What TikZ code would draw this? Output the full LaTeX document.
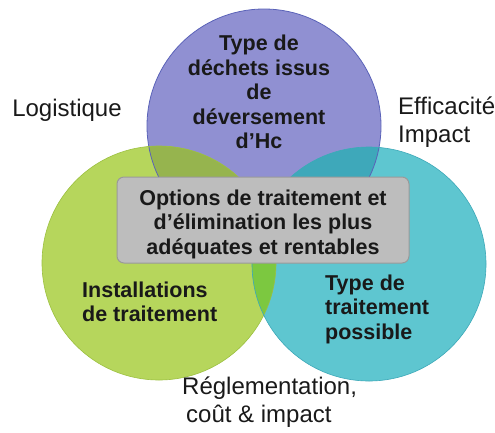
\documentclass[tikz,border=0pt]{standalone}
\usepackage{fontspec}
\setmainfont{Liberation Sans}
\definecolor{cTop}{HTML}{9090D2}
\definecolor{cLeft}{HTML}{B6D65C}
\definecolor{cRight}{HTML}{5EC6D0}
\definecolor{cTL}{HTML}{96B44E}
\definecolor{cTR}{HTML}{3EA8BA}
\definecolor{cLR}{HTML}{7CC840}
\definecolor{cTLR}{HTML}{6AA048}
\definecolor{bTop}{HTML}{5A62B8}
\definecolor{bLeft}{HTML}{9CC040}
\definecolor{bRight}{HTML}{3CA8B8}
\definecolor{boxfill}{HTML}{BDBDBD}
\definecolor{boxline}{HTML}{9A9A9A}
\begin{document}
\begin{tikzpicture}[x=1pt,y=-1pt,
  bold/.style={font=\fontsize{21.5}{24.5}\selectfont\bfseries, inner sep=0pt, text=black!90},
  plain/.style={font=\fontsize{24}{27.5}\selectfont, inner sep=0pt, text=black!90}]
\useasboundingbox (0,0) rectangle (495,432);
\coordinate (ct) at (264,126);
\coordinate (cl) at (159,263);
\coordinate (cr) at (369,264);
% base circles
\fill[cTop] (ct) circle (117pt);
\fill[cLeft] (cl) circle (117pt);
\fill[cRight] (cr) circle (117pt);
% overlaps
\begin{scope}\clip (ct) circle (117pt); \fill[cTL] (cl) circle (117pt); \end{scope}
\begin{scope}\clip (ct) circle (117pt); \fill[cTR] (cr) circle (117pt); \end{scope}
\begin{scope}\clip (cl) circle (117pt); \fill[cLR] (cr) circle (117pt); \end{scope}
\begin{scope}\clip (ct) circle (117pt); \clip (cl) circle (117pt); \fill[cTLR] (cr) circle (117pt); \end{scope}
% borders
\draw[bTop, line width=0.8pt] (ct) circle (117pt);
\draw[bLeft, line width=0.6pt] (cl) circle (117pt);
\draw[bRight, line width=0.6pt] (cr) circle (117pt);
% central box
\node[draw=boxline, fill=boxfill, rounded corners=7pt, line width=1pt,
      minimum width=292pt, minimum height=86pt, inner sep=0pt] (box) at (263,220) {};
\node[bold, align=center] (opt) at (263,224) {Options de traitement et\\d’élimination les plus\\adéquates et rentables};
% circle texts
\node[bold, align=center] (tt) at (259,92) {Type de\\déchets issus\\de\\déversement\\d’Hc};
\node[bold, align=left, anchor=west] (tl) at (82,302) {Installations\\de traitement};
\node[bold, align=left, anchor=west] (tr) at (325,309) {Type de\\traitement\\possible};
% outer labels
\node[plain] (log) at (67,110) {Logistique};
\node[plain, align=left, anchor=west] (eff) at (398,122) {Efficacité\\Impact};
\node[plain, align=left, anchor=west] (reg) at (182,402) {Réglementation,\\\hspace*{4pt}coût \& impact};
\end{tikzpicture}
\end{document}
